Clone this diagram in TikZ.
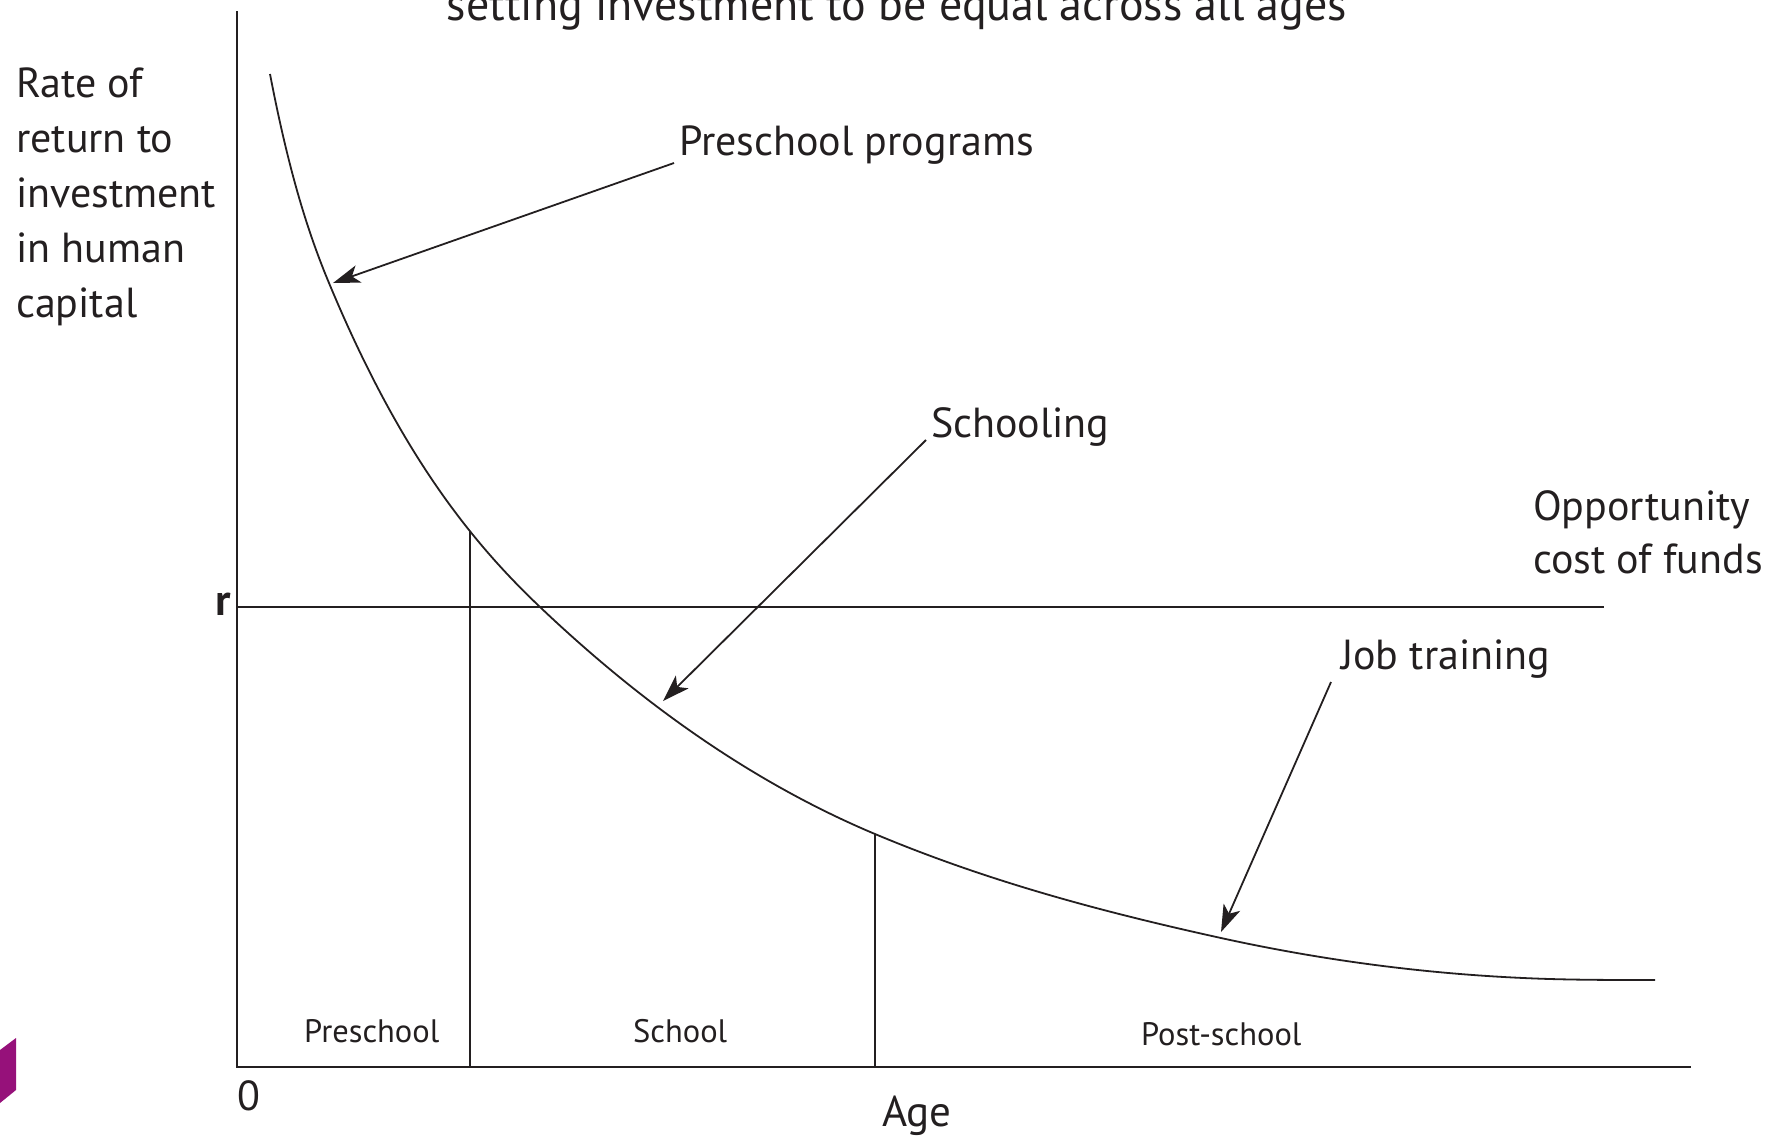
\documentclass[tikz,border=0pt]{standalone}
\usepackage{fontspec}
\setmainfont{PT Sans}
\usetikzlibrary{arrows.meta,intersections}
\definecolor{ink}{RGB}{35,31,32}
\definecolor{brandpurple}{RGB}{150,17,122}
\tikzset{
  axis/.style={draw=ink, line width=2.4pt},
  thin/.style={draw=ink, line width=1.8pt},
  pointer/.style={draw=ink, line width=1.8pt, -{Stealth[length=27pt,width=18pt,inset=7pt]}},
  lab/.style={text=ink, inner sep=0pt, font=\fontsize{42}{55}\selectfont},
  small/.style={text=ink, inner sep=0pt, font=\fontsize{32.5}{38}\selectfont},
}
\begin{document}
\begin{tikzpicture}[x=1pt,y=-1pt]
\useasboundingbox (0,0) rectangle (1771,1136);
% title, partly cut off
\node[lab, anchor=base, font=\fontsize{46}{55}\selectfont] (title) at (897,20) {setting investment to be equal across all ages};
% purple mark
\fill[brandpurple] (0,1050) -- (16,1038) -- (16,1090) -- (0,1103) -- cycle;
% axes
\coordinate (ytop) at (237,11);
\coordinate (orig) at (237,1067);
\coordinate (xend) at (1691,1067);
\draw[axis] (ytop) -- (orig) -- (xend);
% opportunity cost line
\coordinate (rl) at (237,607);
\coordinate (rr) at (1604,607);
\draw[thin] (rl) -- (rr);
% curve
\draw[thin, name path=curve] (270,74)
  .. controls (289.67,176.3) and (309.33,235.8) .. (329,283)
  .. controls (399.33,451.8) and (469.67,540.2) .. (540,607)
  .. controls (651.67,713.1) and (763.33,787.1) .. (875,834)
  .. controls (990.33,882.4) and (1105.67,912.6) .. (1221,938)
  .. controls (1330.67,962.1) and (1440.33,975.7) .. (1550,979)
  .. controls (1585,980) and (1620,980) .. (1655,980);
% stage dividers
\path[name path=v1] (470,0) -- (470,1136);
\path[name path=v2] (875,0) -- (875,1136);
\path[name intersections={of=curve and v1, by=d1t}];
\path[name intersections={of=curve and v2, by=d2t}];
\coordinate (d1b) at (470,1067);
\coordinate (d2b) at (875,1067);
\draw[thin] (d1t) -- (d1b);
\draw[thin] (d2t) -- (d2b);
% labels
\node[lab, anchor=base west, align=left] (ylab) at (16,317) {Rate of\\return to\\investment\\in human\\capital};
\node[lab, anchor=base west] (pp) at (679,155) {Preschool programs};
\node[lab, anchor=base west] (sc) at (931,437) {Schooling};
\node[lab, anchor=base west, align=left, font=\fontsize{42}{53}\selectfont] (oc) at (1533,573) {Opportunity\\cost of funds};
\node[lab, anchor=base west] (jt) at (1341,669) {Job training};
\node[small, anchor=base west] (l1) at (304,1042) {Preschool};
\node[small, anchor=base west] (l2) at (633,1042) {School};
\node[small, anchor=base west] (l3) at (1141,1045) {Post-school};
\node[lab, anchor=base west] (zero) at (237,1110) {0};
\node[lab, anchor=base west, font=\fontsize{43}{50}\selectfont] (age) at (882,1126) {Age};
\node[lab, anchor=base west, font=\bfseries\fontsize{44}{50}\selectfont] (r) at (215,615) {r};
% pointers
\coordinate (pps) at (674,163);
\coordinate (ppe) at (333,283);
\coordinate (scs) at (926,440);
\coordinate (sce) at (663,701);
\coordinate (jts) at (1331,682);
\coordinate (jte) at (1221,932);
\draw[pointer] (pps) -- (ppe);
\draw[pointer] (scs) -- (sce);
\draw[pointer] (jts) -- (jte);
\end{tikzpicture}
\end{document}
